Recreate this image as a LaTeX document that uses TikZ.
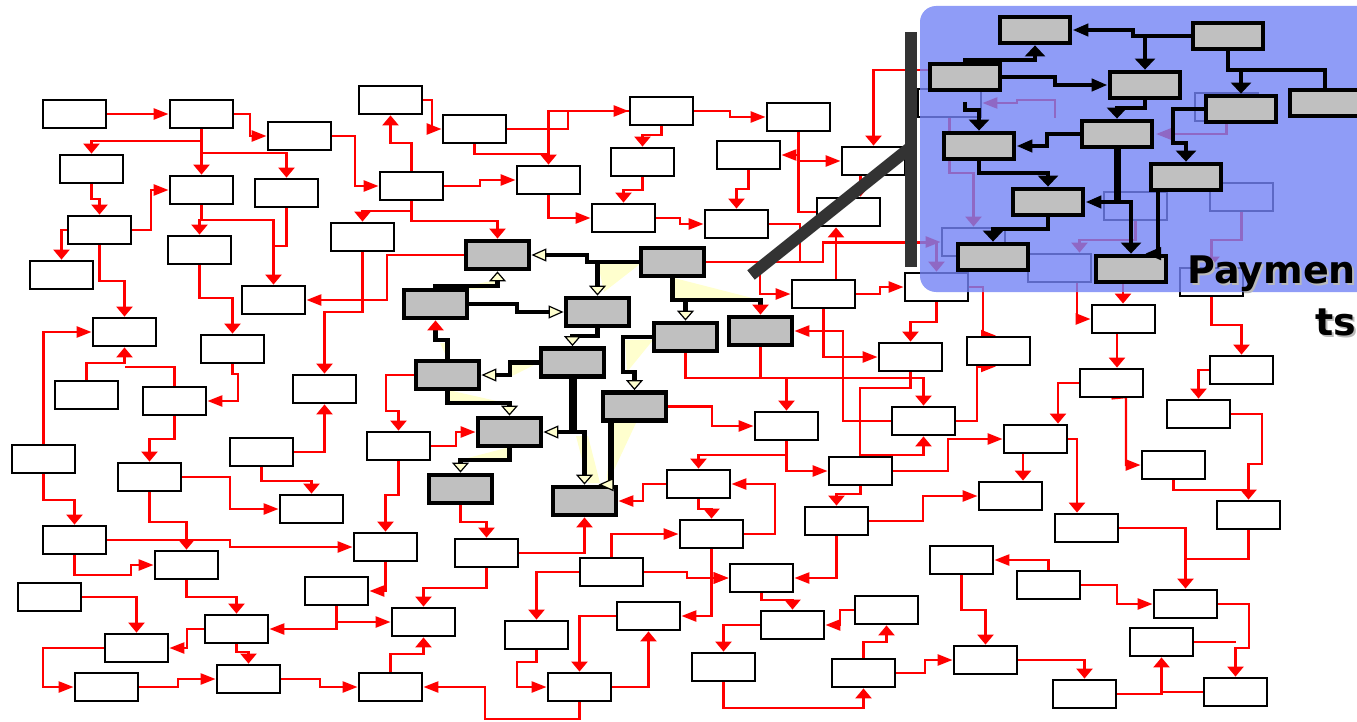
\documentclass[tikz,border=0pt]{standalone}
\usepackage{fontspec}
\setmainfont{DejaVu Sans}
\usetikzlibrary{arrows.meta}
\pgfdeclarelayer{bg}
\pgfdeclarelayer{pan}
\pgfdeclarelayer{top}
\pgfdeclarelayer{fg}
\pgfsetlayers{bg,main,pan,top,fg}
\definecolor{rd}{RGB}{255,0,0}
\definecolor{gb}{RGB}{192,192,192}
\definecolor{pale}{RGB}{255,255,206}
\definecolor{barc}{RGB}{51,51,51}
\definecolor{panc}{RGB}{115,131,245}
\tikzset{
 wb/.style={draw=black,line width=2.8pt,fill=white,minimum width=63pt,minimum height=28pt,inner sep=0pt},
 gbx/.style={draw=black,line width=4.8pt,fill=gb,minimum width=63pt,minimum height=28pt,inner sep=0pt},
 pbx/.style={draw=black,line width=4.8pt,fill=gb,minimum width=70pt,minimum height=26pt,inner sep=0pt},
 rn/.style={draw=rd,line width=2.4pt},
 rh/.style={rn,-{Triangle[length=15pt,width=11pt]}},
 rv/.style={rn,-{Triangle[length=10pt,width=16pt]}},
 bn/.style={draw=black,line width=4.5pt},
 yh/.style={bn,-{Triangle[length=15pt,width=13pt,fill=pale,line width=1.2pt]}},
 yv/.style={bn,-{Triangle[length=10pt,width=17pt,fill=pale,line width=1.2pt]}},
 br/.style={bn,-{Triangle[length=10pt,width=16pt,color=rd]}},
 kn/.style={draw=black,line width=4.2pt},
 kh/.style={kn,-{Triangle[length=16pt,width=12pt]}},
 kv/.style={kn,-{Triangle[length=11pt,width=20pt]}},
 ttl/.style={anchor=base east,inner sep=0pt,font=\bfseries\fontsize{38}{40}\selectfont},
 glow/.style={fill=pale}
}
\begin{document}
\begin{tikzpicture}[x=1pt,y=-1pt]
\useasboundingbox (0,0) rectangle (1357,722);
\coordinate (c1) at (930,70);
\coordinate (c3) at (1077,268);
\coordinate (c4) at (965,102);
\coordinate (c5) at (1055,118);
% ---------- white boxes ----------
\node[wb] (w1) at (74.5,114) {};
\node[wb] (w2) at (201.5,114) {};
\node[wb] (w3) at (299.5,136) {};
\node[wb] (w4) at (390.5,100) {};
\node[wb] (w5) at (474.5,129) {};
\node[wb] (w6) at (661.5,111) {};
\node[wb] (w7) at (798.5,117) {};
\node[wb] (w8) at (91.5,169) {};
\node[wb] (w9) at (201.5,190) {};
\node[wb] (w10) at (286.5,193) {};
\node[wb] (w11) at (411.5,186) {};
\node[wb] (w12) at (548.5,180) {};
\node[wb] (w13) at (642.5,162) {};
\node[wb] (w14) at (748.5,155) {};
\node[wb] (w15) at (873.5,161) {};
\node[wb] (w16) at (99.5,230) {};
\node[wb] (w17) at (61.5,275) {};
\node[wb] (w18) at (199.5,250) {};
\node[wb] (w19) at (362.5,237) {};
\node[wb] (w20) at (623.5,218) {};
\node[wb] (w21) at (736.5,224) {};
\node[wb] (w22) at (848.5,212) {};
\node[wb] (w23) at (273.5,300) {};
\node[wb] (w24) at (823.5,294) {};
\node[wb] (w25) at (936.5,287) {};
\node[wb] (w26) at (124.5,332) {};
\node[wb] (w27) at (232.5,349) {};
\node[wb] (w28) at (86.5,395) {};
\node[wb] (w29) at (174.5,401) {};
\node[wb] (w30) at (324.5,389) {};
\node[wb] (w31) at (910.5,357) {};
\node[wb] (w32) at (998.5,351) {};
\node[wb] (w33) at (1123.5,319) {};
\node[wb] (w34) at (1111.5,383) {};
\node[wb] (w35) at (1241.5,370) {};
\node[wb] (w36) at (1198.5,414) {};
\node[wb] (w37) at (43.5,459) {};
\node[wb] (w38) at (261.5,452) {};
\node[wb] (w39) at (398.5,446) {};
\node[wb] (w40) at (786.5,426) {};
\node[wb] (w41) at (923.5,421) {};
\node[wb] (w42) at (1035.5,439) {};
\node[wb] (w43) at (149.5,477) {};
\node[wb] (w44) at (860.5,471) {};
\node[wb] (w45) at (1173.5,465) {};
\node[wb] (w46) at (698.5,484) {};
\node[wb] (w47) at (311.5,509) {};
\node[wb] (w48) at (1010.5,496) {};
\node[wb] (w49) at (1248.5,515) {};
\node[wb] (w50) at (836.5,521) {};
\node[wb] (w51) at (74.5,540) {};
\node[wb] (w52) at (385.5,547) {};
\node[wb] (w53) at (486.5,553) {};
\node[wb] (w54) at (711.5,534) {};
\node[wb] (w55) at (1086.5,528) {};
\node[wb] (w56) at (186.5,565) {};
\node[wb] (w57) at (961.5,560) {};
\node[wb] (w58) at (611.5,572) {};
\node[wb] (w59) at (761.5,578) {};
\node[wb] (w60) at (1048.5,585) {};
\node[wb] (w61) at (49.5,597) {};
\node[wb] (w62) at (336.5,591) {};
\node[wb] (w63) at (886.5,610) {};
\node[wb] (w64) at (1185.5,604) {};
\node[wb] (w65) at (236.5,629) {};
\node[wb] (w66) at (423.5,622) {};
\node[wb] (w67) at (648.5,616) {};
\node[wb] (w68) at (792.5,625) {};
\node[wb] (w69) at (536.5,635) {};
\node[wb] (w70) at (1161.5,642) {};
\node[wb] (w71) at (136.5,648) {};
\node[wb] (w72) at (985.5,660) {};
\node[wb] (w73) at (248.5,679) {};
\node[wb] (w74) at (723.5,667) {};
\node[wb] (w75) at (106.5,687) {};
\node[wb] (w76) at (390.5,687) {};
\node[wb] (w77) at (579.5,687) {};
\node[wb] (w78) at (863.5,673) {};
\node[wb] (w79) at (1084.5,694) {};
\node[wb] (w80) at (1235.5,692) {};
\node[wb] (w81) at (1211.5,282) {};
\node[wb] (w82) at (949.5,103) {};
\node[wb] (f1) at (1135.5,206) {};
\node[wb] (f2) at (1241.5,197) {};
\node[wb] (f3) at (973.5,242) {};
\node[wb] (f4) at (1059.5,268) {};
\node[wb] (f5) at (1226.5,107) {};
% ---------- gray cluster ----------
\node[gbx] (g1) at (497.5,255) {};
\node[gbx] (g2) at (672.5,262) {};
\node[gbx] (g3) at (435.5,304) {};
\node[gbx] (g4) at (597.5,312) {};
\node[gbx] (g5) at (685.5,337) {};
\node[gbx] (g6) at (760.5,331) {};
\node[gbx] (g7) at (572.5,362.5) {};
\node[gbx] (g8) at (447.5,375) {};
\node[gbx] (g9) at (634.5,406.5) {};
\node[gbx] (g10) at (509.5,432) {};
\node[gbx] (g11) at (460.5,489) {};
\node[gbx] (g12) at (584.5,501) {};
\draw[yh] (g2.west) -- (587,262) -- (587,255) -- (g1.east);
\draw[yv] (g2.west) -| (g4.north);
\draw[yv] (g3.north) -- (435.5,286) -| (g1.south);
\draw[yh] (g3.east) -- (517,304) |- (g4.west);
\draw[yv] (g4.south) -- (597.5,336) -| (g7.north);
\draw[yh] (g7.west) -- (510,362.5) |- (g8.east);
\draw[yv] (g8.south) -- (447.5,403) -| (g10.north);
\draw[bn,line width=8pt] (g7.south) -- (572.5,434);
\draw[yh] (g7.south) |- (g10.east);
\draw[yv] (g7.south) -- (572.5,432) -| (g12.north);
\draw[yv] (g10.south) -- (509.5,460) -| (g11.north);
\draw[yv] (g5.west) -- (623,337) -- (623,372) -| (g9.north);
\draw[yv] (g2.south) -- (672.5,300) -| (g5.north);
\draw[br] (g2.south) -- (672.5,300) -| (g6.north);
\draw[br] (g8.north) -- (447.5,340) -| (g3.south);
\draw[yh,line width=6pt] ([xshift=-24pt]g9.south) -- ([xshift=26pt]g12.north) -- ([xshift=14pt]g12.north);
% ---------- panel ----------
\begin{pgfonlayer}{pan}
\fill[panc,opacity=0.8,rounded corners=16pt] (920,6) rectangle (1380,292);
\end{pgfonlayer}
\begin{pgfonlayer}{top}
\node[pbx] (p1) at (1035,30) {};
\node[pbx] (p2) at (1228,36) {};
\node[pbx] (p3) at (965,77) {};
\node[pbx] (p4) at (1145,85) {};
\node[pbx] (p5) at (1241,109) {};
\node[pbx] (p6) at (1325,103) {};
\node[pbx] (p7) at (1117,134) {};
\node[pbx] (p8) at (979,146) {};
\node[pbx] (p9) at (1186,177) {};
\node[pbx] (p10) at (1048,202) {};
\node[pbx] (p11) at (993,257) {};
\node[pbx] (p12) at (1131,269) {};
\draw[kh] (p2.west) -- (1133,36) -- (1133,30) -- (p1.east);
\draw[kv] (p2.west) -| (p4.north);
\draw[kn] (p2.south) -- (1228,70) -| (p6.north);
\draw[kv] (p2.south) -- (1228,70) -| (p5.north);
\draw[kv] (p3.north) -- (965,60) -| (p1.south);
\draw[kh] (p3.east) -- (1055,77) |- (p4.west);
\draw[kv] (p4.south) -- (1145,108) -| (p7.north);
\draw[kv] (c4) -- (965,110) -| (p8.north);
\draw[kh] (p7.west) -- (1047,134) |- (p8.east);
\draw[kv] (p8.south) -- (979,173) -| (p10.north);
\draw[kn,line width=7pt] (p7.south) -- (1117,202);
\draw[kh] (p7.south) |- (p10.east);
\draw[kv] (p7.south) -- (1117,202) -| (p12.north);
\draw[kh] ([xshift=-28pt]p9.south) -- ([xshift=27pt]p12.north) -- ([xshift=14pt]p12.north);
\draw[kv] (p5.west) -- (1173,109) |- (1186,143) -- (p9.north);
\draw[kv] (p10.south) -- (1048,229) -| (p11.north);
\end{pgfonlayer}
% ---------- red connectors ----------
\begin{pgfonlayer}{bg}
\fill[glow] (598,264) -- (640,264) -- (604,292) -- cycle;
\fill[glow] (674,278) -- (674,300) -- (760,300) -- cycle;
\fill[glow] (440,291) -- (497,280) -- (497,288) -- cycle;
\fill[glow] (448,390) -- (510,404) -- (448,404) -- cycle;
\fill[glow] (460,460) -- (510,447) -- (510,460) -- cycle;
\fill[glow] (612,423) -- (636,423) -- (606,487) -- cycle;
\fill[glow] (576,436) -- (588,436) -- (600,483) -- (588,483) -- cycle;
\fill[glow] (625,340) -- (653,340) -- (627,372) -- cycle;
\fill[glow] (440,343) -- (448,343) -- (448,360) -- cycle;
\fill[glow] (512,362) -- (540,362) -- (512,376) -- cycle;
\draw[rh] (w1.east) -- (w2.west);
\draw[rh] (w2.east) -- (250,114) |- (w3.west);
\draw[rv] (w2.south) -- (201.5,141) -| (w8.north);
\draw[rv] (w2.south) -- (w9.north);
\draw[rv] (w2.south) -- (201.5,153) -| (w10.north);
\draw[rv] (w8.south) -- (91.5,199) -| (w16.north);
\draw[rh] (w16.east) -- (151,230) |- (w9.west);
\draw[rv] (w16.west) -| (w17.north);
\draw[rv] (w16.south) -- (99.5,281) -| (w26.north);
\draw[rv] (w9.south) -- (201.5,220) -| (w18.north);
\draw[rv] (w9.south) -- (201.5,220) -| (w23.north);
\draw[rn] (w10.south) -- (286.5,246) -- (273.5,246);
\draw[rv] (w18.south) -- (199.5,298) -| (w27.north);
\draw[rh] (w3.east) -- (355,136) |- (w11.west);
\draw[rh] (w4.east) -- (432,100) |- (w5.west);
\draw[rv] (w11.north) -- (411.5,143) -| (w4.south);
\draw[rh] (w11.east) -- (480,186) |- (w12.west);
\draw[rv] (w11.south) -- (411.5,211) -| (w19.north);
\draw[rv] (w11.south) -- (411.5,221) -| (g1.north);
\draw[rh] (w5.east) -- (568,129) |- (w6.west);
\draw[rv] (w5.south) -- (474.5,154) -| (w12.north);
\draw[rn] (w6.west) -| (548.5,154);
\draw[rv] (w6.south) -- (661.5,135) -| (w13.north);
\draw[rv] (w13.south) -- (642.5,190) -| (w20.north);
\draw[rh] (w12.south) |- (w20.west);
\draw[rh] (w20.east) -- (680,218) |- (w21.west);
\draw[rh] (w6.east) -- (730,111) |- (w7.west);
\draw[rh] (w7.south) |- (w14.east);
\draw[rh] (w7.south) |- (w15.west);
\draw[rn] (w7.south) |- (w22.west);
\draw[rv] (w14.south) -- (748.5,189) -| (w21.north);
\draw[rv] (c1) -| (w15.north);
\draw[rv] ([xshift=-13pt]w15.south) -- ([xshift=12pt]w22.north);
\draw[rn] (w21.east) -| (800,262);
\draw[rh] (g2.east) -- (823,262) |- (f3.west);
\draw[rv] (g2.east) -- (823,262) -- (823,243) -| (w25.north);
\draw[rh] (g2.east) -- (760,262) |- (w24.west);
\draw[rv] ([xshift=12.5pt]w24.north) -- ([xshift=-12.5pt]w22.south);
\draw[rh] (w24.east) -- (880,294) |- (w25.west);
\draw[rh] (w24.south) |- (w31.west);
\draw[rv] (w25.south) -- (936.5,322) -| (w31.north);
\draw[rh] (w25.east) -- (983,287) |- ([xshift=-2.5pt]w32.north);
\draw[rh] (w41.east) -- (977,421) |- ([xshift=-2.5pt]w32.south);
\draw[rh] (w41.west) -- (843,421) |- (g6.east);
\draw[rv] (g5.south) -- (685.5,378) -| (w40.north);
\draw[rv] (g6.south) -- (760.5,378) -| (w41.north);
\draw[rv] (w31.south) -- (910.5,388) -- (860,388) -- (860,455) -| (w41.south);
\draw[rh] (g9.east) -- (712,406.5) |- (w40.west);
\draw[rv] (w40.south) -- (786.5,455) -| (w46.north);
\draw[rh] (w40.south) |- (w44.west);
\draw[rh] (w44.east) -- (948,471) |- (w42.west);
\draw[rv] (w44.south) -- (860.5,494) -| (w50.north);
\draw[rh] (w50.east) -- (923,521) |- (w48.west);
\draw[rh] (w46.west) -- (643,484) |- (g12.east);
\draw[rv] (w46.south) -- (698.5,509) -| (w54.north);
\draw[rh] (w54.east) -- (775,534) |- (w46.east);
\draw[rv] ([xshift=-8pt]p12.south) -- ([xshift=-0.5pt]w33.north);
\draw[rh] (c3) |- (w33.west);
\draw[rv] ([xshift=-6.5pt]w33.south) -- ([xshift=5.5pt]w34.north);
\draw[rv] (w34.west) -- (1058,383) -- ([xshift=22.5pt]w42.north);
\draw[rh] (w34.south) -- (1126,397) |- (w45.west);
\draw[rv] (w81.south) -- (1211.5,325) -| (w35.north);
\draw[rv] (w35.west) -| (w36.north);
\draw[rv] (w36.east) -- (1262,414) -- (1262,464) -| (w49.north);
\draw[rn] (w45.south) |- (1248.5,490);
\draw[rv] ([xshift=-12.5pt]w42.south) -- ([xshift=12.5pt]w48.north);
\draw[rv] (w42.east) -- (1077,439) -- ([xshift=-9.5pt]w55.north);
\draw[rv] (w55.east) -| (w64.north);
\draw[rn] (w49.south) |- (1185.5,559);
\draw[rh] (w60.north) |- (w57.east);
\draw[rh] (w60.east) -- (1117,585) |- (w64.west);
\draw[rv] (w64.east) -- (1249,604) -- (1249,648) -| (w80.north);
\draw[rn] (w70.east) -- (1235.5,642);
\draw[rv] (w79.east) -| (w70.south);
\draw[rn] (w80.west) -- (1161.5,692);
\draw[rv] (w72.east) -| (w79.north);
\draw[rv] (w57.south) -- (961.5,610) -| (w72.north);
\draw[rh] (w54.south) |- (w59.west);
\draw[rh] (w54.south) |- (w67.east);
\draw[rh] (w58.east) -- (687,572) |- (w59.west);
\draw[rh] (w50.south) |- (w59.east);
\draw[rv] (w59.south) -- (761.5,600) -| (w68.north);
\draw[rh] (w63.west) -- (840,610) |- (w68.east);
\draw[rv] (w68.west) -| (w74.north);
\draw[rv] (w74.south) -- (723.5,708) -| (w78.south);
\draw[rv] (w78.north) -- (863.5,642) -| (w63.south);
\draw[rh] (w78.east) -- (925,673) |- (w72.west);
\draw[rv] (g11.south) -- (460.5,522) -| (w53.north);
\draw[rv] (w53.east) -| (g12.south);
\draw[rv] (w53.south) -- (486.5,588) -| (w66.north);
\draw[rh] (w52.south) |- (w62.east);
\draw[rv] (w39.south) -- (398.5,495) -| (w52.north);
\draw[rh] (w62.south) |- (w66.west);
\draw[rh] (w62.south) |- (w65.east);
\draw[rv] (w76.north) -- (390.5,654) -| (w66.south);
\draw[rh] (w73.east) -- (320,679) |- (w76.west);
\draw[rh] (w77.south) -- (579.5,719) -- (485,719) |- (w76.east);
\draw[rv] (w58.west) -| (w69.north);
\draw[rh] (w58.north) |- (w54.west);
\draw[rh] (w69.south) -- (536.5,662) -- (517,662) |- (w77.west);
\draw[rv] (w67.west) -| (w77.north);
\draw[rv] (w77.east) -| (w67.south);
\draw[rv] (w37.south) -- (43.5,500) -| (w51.north);
\draw[rh] (w51.east) -- (230,540) |- (w52.west);
\draw[rv] (w43.south) -- (149.5,522) -| (w56.north);
\draw[rh] (w51.south) -- (74.5,575) -- (131,575) |- (w56.west);
\draw[rv] (w56.south) -- (186.5,597) -| (w65.north);
\draw[rv] (w61.east) -| (w71.north);
\draw[rh] (w65.west) -- (187,629) |- (w71.east);
\draw[rv] (w65.south) -- (236.5,652) -| (w73.north);
\draw[rh] (w71.west) -- (43,648) |- (w75.west);
\draw[rh] (w75.east) -- (178,687) |- (w73.west);
\draw[rh] (w37.north) |- (w26.west);
\draw[rv] (w28.north) -- (86.5,363) -| (w26.south);
\draw[rn] (w29.north) -- (174.5,367) -- (124.5,367);
\draw[rh] (w27.south) -- (232.5,374) -- (238,374) |- (w29.east);
\draw[rv] (w29.south) -- (174.5,439) -| (w43.north);
\draw[rh] (w43.east) -- (230,477) |- (w47.west);
\draw[rv] (w38.east) -| (w30.south);
\draw[rv] (w38.south) -- (261.5,481) -| (w47.north);
\draw[rv] (g8.west) -- (386,375) -- (386,411) -| (w39.north);
\draw[rh] (w39.east) -- (456,446) |- (g10.west);
\draw[rh] (g1.west) -- (387,255) |- (w23.east);
\draw[rv] (w19.south) -- (362.5,312) -| (w30.north);
% faded lines under the panel
\draw[rh] (f5.south) |- (1156,134);
\draw[rv] (w82.south) -- (949.5,173) -| (f3.north);
\draw[rv] (f2.south) -- (1241.5,240) -| (w81.north);
\draw[rh] (c5) -- (1055,100) -- (1017,100) |- (w82.east);
\draw[rv] (f1.south) -- (1135.5,240) -- (1100,240) -| ([xshift=20pt]f4.north);
\end{pgfonlayer}
% ---------- bars and title ----------
\begin{pgfonlayer}{fg}
\fill[barc] (905,32) rectangle (917,267);
\draw[barc,line width=12pt] (751,275) -- (911,147);
\node[ttl,text=gray!55] (ts1) at (1358,285) {Paymen};
\node[ttl,text=gray!55] (ts2) at (1358,337) {ts};
\node[ttl] (t1) at (1356,283) {Paymen};
\node[ttl] (t2) at (1356,335) {ts};
\end{pgfonlayer}
\end{tikzpicture}
\end{document}
